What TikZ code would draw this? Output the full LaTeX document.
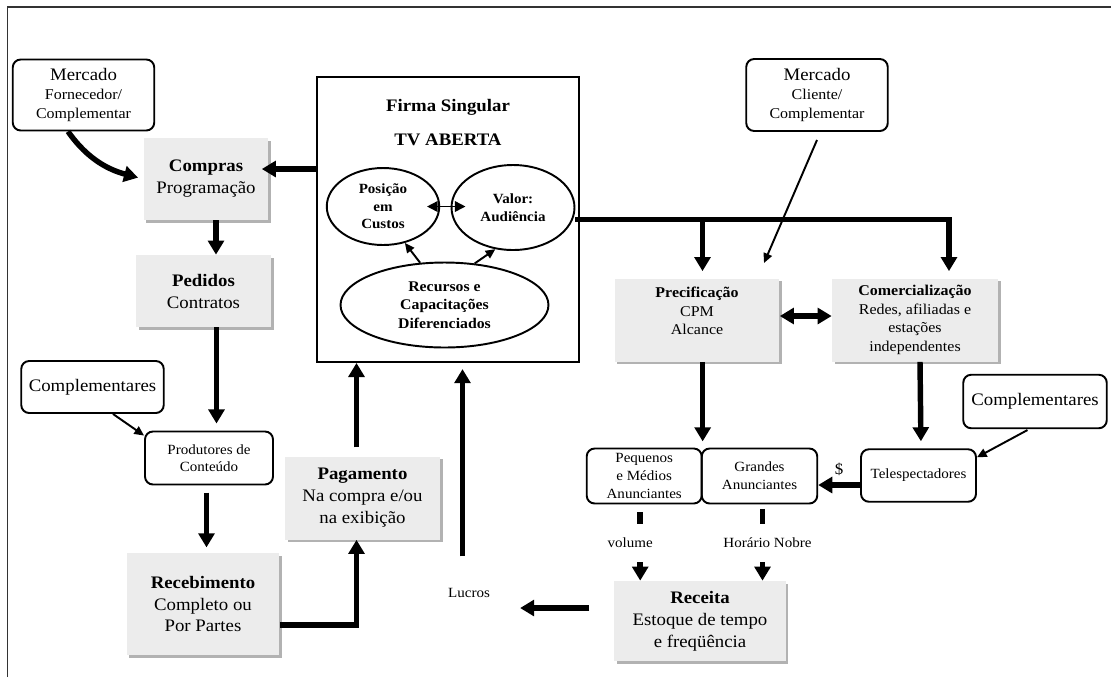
\documentclass[tikz,border=0pt]{standalone}
\usepackage{fontspec}
\setmainfont{Liberation Serif}[FakeStretch=1.07]
\usetikzlibrary{arrows.meta,shapes.geometric,shadows}

\begin{document}
\begin{tikzpicture}[x=0.02cm,y=-0.02cm,
    big/.style = {line width=3.1pt, -{Triangle[width=9pt,length=8pt]}},
    fine/.style = {line width=1.1pt, -{Triangle[width=5pt,length=5.5pt]}},
    gbox/.style = {fill=gray!15, align=center, inner sep=2pt,
                   drop shadow={shadow xshift=1.5pt,shadow yshift=-1.5pt,fill=gray!60,opacity=1},
                   font=\fontsize{10}{12.5}\selectfont},
    rbox/.style = {draw, rounded corners=4.5pt, line width=1.1pt, align=center, inner sep=1pt},
    oval/.style = {draw, ellipse, line width=1.1pt, align=center, inner sep=0pt,
                   font=\fontsize{8}{10}\selectfont},
    lab/.style  = {font=\fontsize{8}{10}\selectfont, inner sep=1pt},
    cut/.style  = {lab, fill=white, inner ysep=8pt}]
  \useasboundingbox (0,0) rectangle (1111,677);
  \draw[line width=0.6pt, black!80] (7.5,677) -- (7.5,7) -- (1111,7);

  \node[rbox, minimum width=2.83cm, minimum height=1.42cm, font=\fontsize{8.5}{11}\selectfont]
       (mercF) at (83.5,95) {{\fontsize{10}{12}\selectfont Mercado}\\ Fornecedor/\\ Complementar};
  \node[gbox, minimum width=2.50cm, minimum height=1.64cm] (compras) at (206,179) {\textbf{Compras}\\ Programação};
  \node[gbox, minimum width=2.70cm, minimum height=1.44cm] (pedidos) at (203.5,291) {\textbf{Pedidos}\\ Contratos};
  \node[rbox, minimum width=2.85cm, minimum height=1.04cm, font=\fontsize{10}{12}\selectfont]
       (complL) at (92.5,387) {Complementares};
  \node[rbox, minimum width=2.56cm, minimum height=1.06cm, font=\fontsize{8}{10}\selectfont]
       (produtores) at (209,458) {Produtores de\\ Conteúdo};
  \node[gbox, minimum width=3.06cm, minimum height=2.04cm] (recebimento) at (203,604) {\textbf{Recebimento}\\ Completo ou\\ Por Partes};
  \node[gbox, minimum width=3.10cm, minimum height=1.66cm] (pagamento) at (362.5,498) {\textbf{Pagamento}\\ Na compra e/ou\\ na exibição};

  \node[draw, line width=1.1pt, minimum width=5.24cm, minimum height=5.70cm] (firma) at (448,219.5) {};
  \node[font=\fontsize{10}{12}\selectfont\bfseries] (firmaA) at (448,107) {Firma Singular};
  \node[font=\fontsize{10}{12}\selectfont\bfseries] (firmaB) at (448,140) {TV ABERTA};
  \node[oval, minimum width=2.25cm, minimum height=1.54cm] (posicao) at (383,206.5) {\textbf{Posição}\\ \textbf{em}\\ \textbf{Custos}};
  \node[oval, minimum width=2.46cm, minimum height=1.70cm] (valor) at (513,207.5) {\textbf{Valor:}\\ \textbf{Audiência}};
  \node[oval, minimum width=4.16cm, minimum height=1.70cm, font=\fontsize{8.4}{10.6}\selectfont]
       (recursos) at (444.5,305) {\textbf{Recursos e}\\ \textbf{Capacitações}\\ \textbf{Diferenciados}};

  \node[rbox, minimum width=2.83cm, minimum height=1.44cm, font=\fontsize{8.5}{11}\selectfont]
       (mercC) at (817,95) {{\fontsize{10}{12}\selectfont Mercado}\\ Cliente/\\ Complementar};
  \node[gbox, minimum width=3.30cm, minimum height=1.66cm, font=\fontsize{8.5}{10.5}\selectfont]
       (precif) at (697,320) {\textbf{Precificação}\\ CPM\\ Alcance\\ \mbox{}};
  \node[gbox, minimum width=3.32cm, minimum height=1.66cm, font=\fontsize{8.5}{10.5}\selectfont]
       (comerc) at (915,320) {\textbf{Comercialização}\\ Redes, afiliadas e\\ estações\\ independentes};
  \node[rbox, minimum width=2.30cm, minimum height=1.10cm, font=\fontsize{8}{10.3}\selectfont]
       (pequenos) at (644.2,476) {Pequenos\\ e Médios\\ Anunciantes};
  \node[rbox, minimum width=2.31cm, minimum height=1.10cm, font=\fontsize{8}{10.3}\selectfont]
       (grandes) at (759.5,476) {Grandes\\ Anunciantes};
  \node[rbox, minimum width=2.30cm, minimum height=1.05cm, font=\fontsize{8}{10}\selectfont]
       (teles) at (918.5,475.5) {Telespectadores};
  \node[rbox, minimum width=2.87cm, minimum height=1.07cm, font=\fontsize{10}{12}\selectfont]
       (complR) at (1035,401.5) {Complementares};
  \node[gbox, minimum width=3.43cm, minimum height=1.60cm] (receita) at (700,621) {\textbf{Receita}\\ Estoque de tempo\\ e freqüência};
  \node[lab] (lucros) at (469,593) {Lucros};
  \coordinate (mcEnd) at (764,263);

  \draw[big, shorten >=3pt] ([xshift=-0.31cm]mercF.south) to[out=-55, in=165] (compras.west);
  \draw[big, shorten >=-4pt] ([yshift=0.2cm]compras.east -| firma.west) -- ([yshift=0.2cm]compras.east);
  \draw[big] ([xshift=0.2cm]compras.south) -- ([xshift=0.2cm]compras.south |- pedidos.north);
  \draw[big, shorten >=4pt] ([xshift=0.26cm]pedidos.south) -- ([xshift=0.26cm]pedidos.south |- produtores.north);
  \draw[fine] ([xshift=0.41cm]complL.south) -- ([yshift=-0.1cm]produtores.north west);
  \draw[big, shorten <=4pt, shorten >=3pt] ([xshift=-0.05cm]produtores.south) -- ([xshift=-0.05cm]produtores.south |- recebimento.north);
  \draw[big] ([yshift=-0.42cm]recebimento.east) -| ([xshift=-0.12cm]pagamento.south);
  \draw[big, shorten <=5pt] ([xshift=-0.12cm]pagamento.north) -- ([xshift=-0.12cm]pagamento.north |- firma.south);
  \draw[big, shorten <=17pt, shorten >=3.5pt] ([xshift=-0.13cm]lucros.north) -- ([xshift=-0.13cm]lucros.north |- firma.south);
  \draw[big, shorten <=14pt, shorten >=16pt] ([yshift=0.26cm]receita.west) -- ([yshift=0.26cm]receita.west -| lucros.east);

  \draw[line width=0.9pt, {Triangle[width=6pt,length=6pt]}-{Triangle[width=6pt,length=6pt]}, shorten <=-7.5pt, shorten >=-8.5pt]
       (posicao.east) -- (posicao.east -| valor.west);
  \draw[fine] (recursos.120) -- (posicao.-59);
  \draw[fine] (recursos.54) -- (valor.-113);

  \draw[big, shorten >=4pt] ([yshift=-0.24cm]valor.east) -| ([xshift=0.68cm]comerc.north);
  \draw[big, shorten >=4pt] ([xshift=0.11cm,yshift=-0.24cm]precif.north |- valor.east) -- ([xshift=0.11cm]precif.north);
  \draw[fine] ([yshift=-0.16cm]mercC.south) -- (mcEnd);
  \draw[big, {Triangle[width=9pt,length=8pt]}-{Triangle[width=9pt,length=8pt]}]
       ([yshift=0.08cm]precif.east) -- ([yshift=0.08cm]comerc.west);
  \draw[big, shorten >=3.5pt] (pequenos.north east |- precif.south) -- (pequenos.north east);
  \draw[big, shorten >=4pt] ([xshift=0.1cm]comerc.south) -- ([xshift=0.05cm]teles.north);
  \draw[fine, shorten <=1pt] ([xshift=-0.12cm]complR.south) -- ([yshift=-0.18cm]teles.north east);
  \draw[big] ([yshift=-0.19cm]teles.west) -- node[lab, above=3pt, font=\fontsize{9}{10}\selectfont] {\$}
       ([yshift=-0.19cm]teles.west -| grandes.east);
  \draw[big, shorten <=4.5pt] ([xshift=-0.08cm]pequenos.south) -- node[cut, xshift=-0.2cm] {volume}
       ([xshift=-0.08cm]pequenos.south |- receita.north);
  \draw[big, shorten <=2.5pt] ([xshift=0.06cm]grandes.south) -- node[cut, xshift=0.1cm] {Horário Nobre}
       ([xshift=0.06cm]grandes.south |- receita.north);
\end{tikzpicture}
\end{document}
